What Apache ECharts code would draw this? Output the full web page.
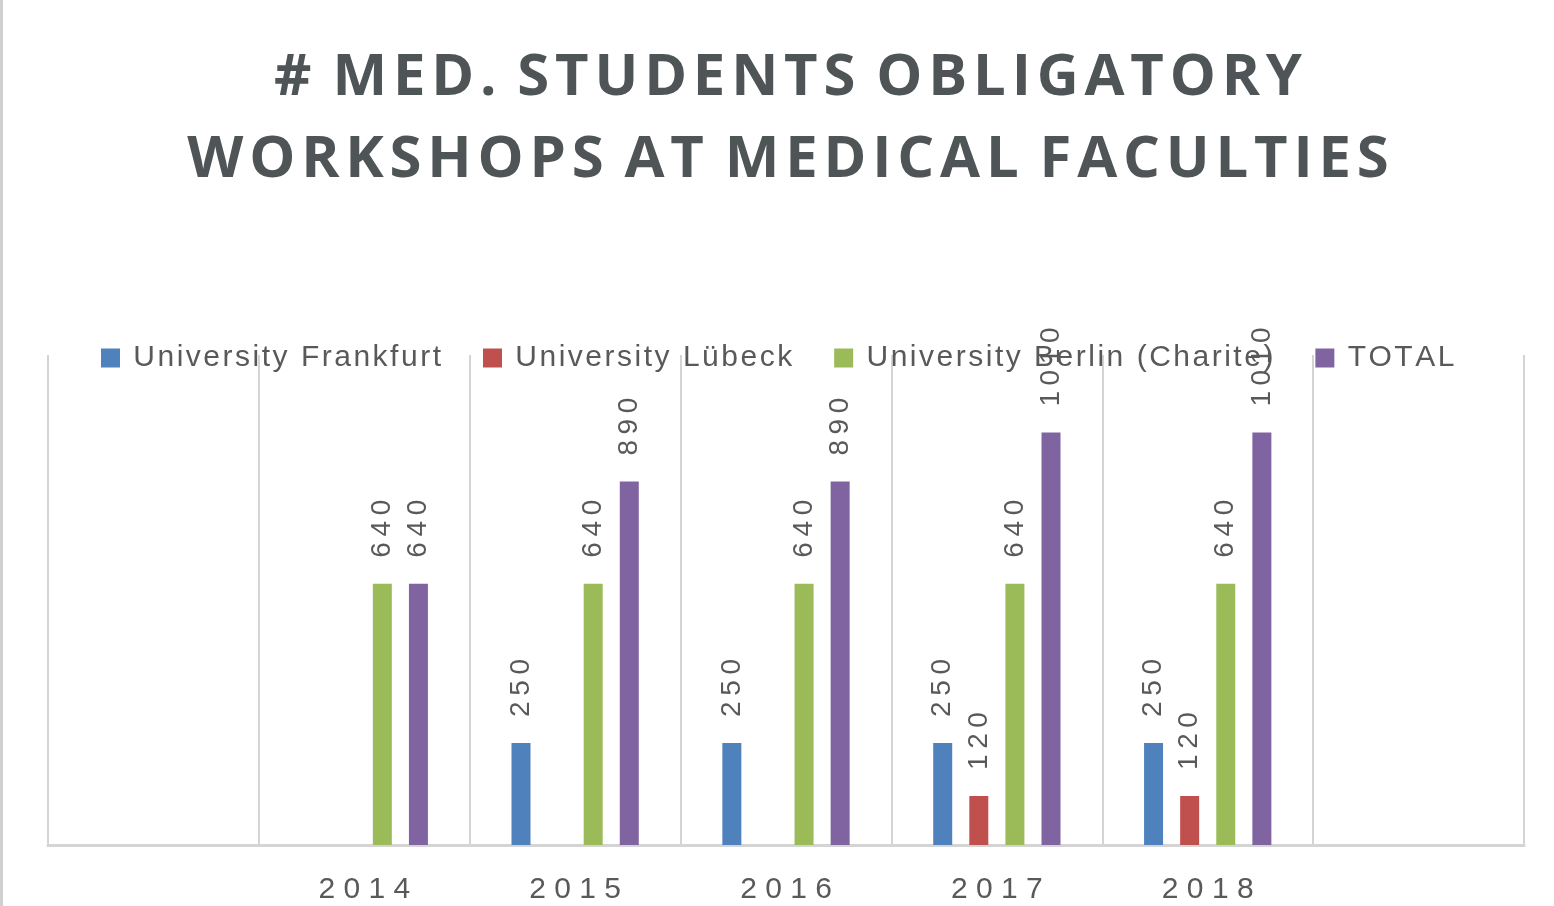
<!DOCTYPE html>
<html>
<head>
<meta charset="utf-8">
<script src="https://cdn.jsdelivr.net/npm/echarts@6/dist/echarts.min.js"></script>
<style>
    html, body { margin: 0; padding: 0; background: #fff; }
    #chart { width: 1554px; height: 906px; }
</style>
</head>
<body>
<div id="chart"></div>
<script>
    // categories (first and last band are empty in the original)
    var years = ['', '2014', '2015', '2016', '2017', '2018', ''];
    var seriesNames = ['University Frankfurt', 'University Lübeck', 'University Berlin (Charite)', 'TOTAL'];
    var frankfurt = [null, null, 250, 250, 250, 250, null];
    var luebeck   = [null, null, null, null, 120, 120, null];
    var berlin    = [null, 640, 640, 640, 640, 640, null];
    var total     = [null, 640, 890, 890, 1010, 1010, null];
    var colors = ['#4F81BD', '#C0504D', '#9BBB59', '#8064A2'];
    var titleLines = ['# MED. STUDENTS OBLIGATORY', 'WORKSHOPS AT MEDICAL FACULTIES'];

    var gray = '#595959';
    // the original text is letter-spaced, fake it with thin / hair spaces
    var spaced = function (s, sep) { return String(s).split('').join(sep || '\u2009'); };
    var wideTitle = function (line) {
        return line.split(' ').map(function (w) { return spaced(w, '\u200A'); }).join(' \u200A');
    };

    function makeSeries(name, data, color) {
        return {
            name: name,
            type: 'bar',
            data: data,
            barWidth: 19,
            barGap: '90%',
            itemStyle: { color: color },
            label: {
                show: true,
                position: 'top',
                rotate: 90,
                align: 'left',
                verticalAlign: 'middle',
                distance: 26,
                color: gray,
                fontSize: 28,
                fontFamily: 'Liberation Sans',
                formatter: function (p) { return spaced(p.value); }
            }
        };
    }

    var chart = echarts.init(document.getElementById('chart'));
    var option = {
        animation: false,
        title: {
            text: titleLines.map(wideTitle).join('\n'),
            left: 783,
            top: 32,
            textAlign: 'center',
            textStyle: {
                color: '#4f5457',
                fontSize: 58,
                fontWeight: 'bold',
                fontFamily: 'Open Sans',
                lineHeight: 82
            }
        },
        legend: {
            data: seriesNames,
            left: 96,
            top: 338,
            itemWidth: 19,
            itemHeight: 19,
            itemGap: 42,
            icon: 'rect',
            formatter: function (n) { return ' ' + spaced(n, '\u200A'); },
            textStyle: { color: gray, fontSize: 30, fontFamily: 'Liberation Sans' }
        },
        grid: { left: 48, right: 30, top: 355, bottom: 61 },
        xAxis: {
            type: 'category',
            data: years,
            axisTick: { show: false },
            axisLine: { lineStyle: { color: '#d4d4d4', width: 3 } },
            axisLabel: {
                interval: 0,
                color: gray,
                fontSize: 30,
                fontFamily: 'Liberation Sans',
                margin: 30,
                formatter: function (v) { return v.split('').join(' '); }
            },
            splitLine: { show: true, interval: 0, lineStyle: { color: '#d4d4d4', width: 2 } }
        },
        yAxis: {
            type: 'value',
            min: 0,
            max: 1200,
            show: false
        },
        graphic: [{
            type: 'line',
            shape: { x1: 1.5, y1: 0, x2: 1.5, y2: 906 },
            style: { stroke: '#d0d0d0', lineWidth: 3 }
        }],
        series: [
            makeSeries(seriesNames[0], frankfurt, colors[0]),
            makeSeries(seriesNames[1], luebeck, colors[1]),
            makeSeries(seriesNames[2], berlin, colors[2]),
            makeSeries(seriesNames[3], total, colors[3])
        ]
    };
    chart.setOption(option);
</script>
</body>
</html>
